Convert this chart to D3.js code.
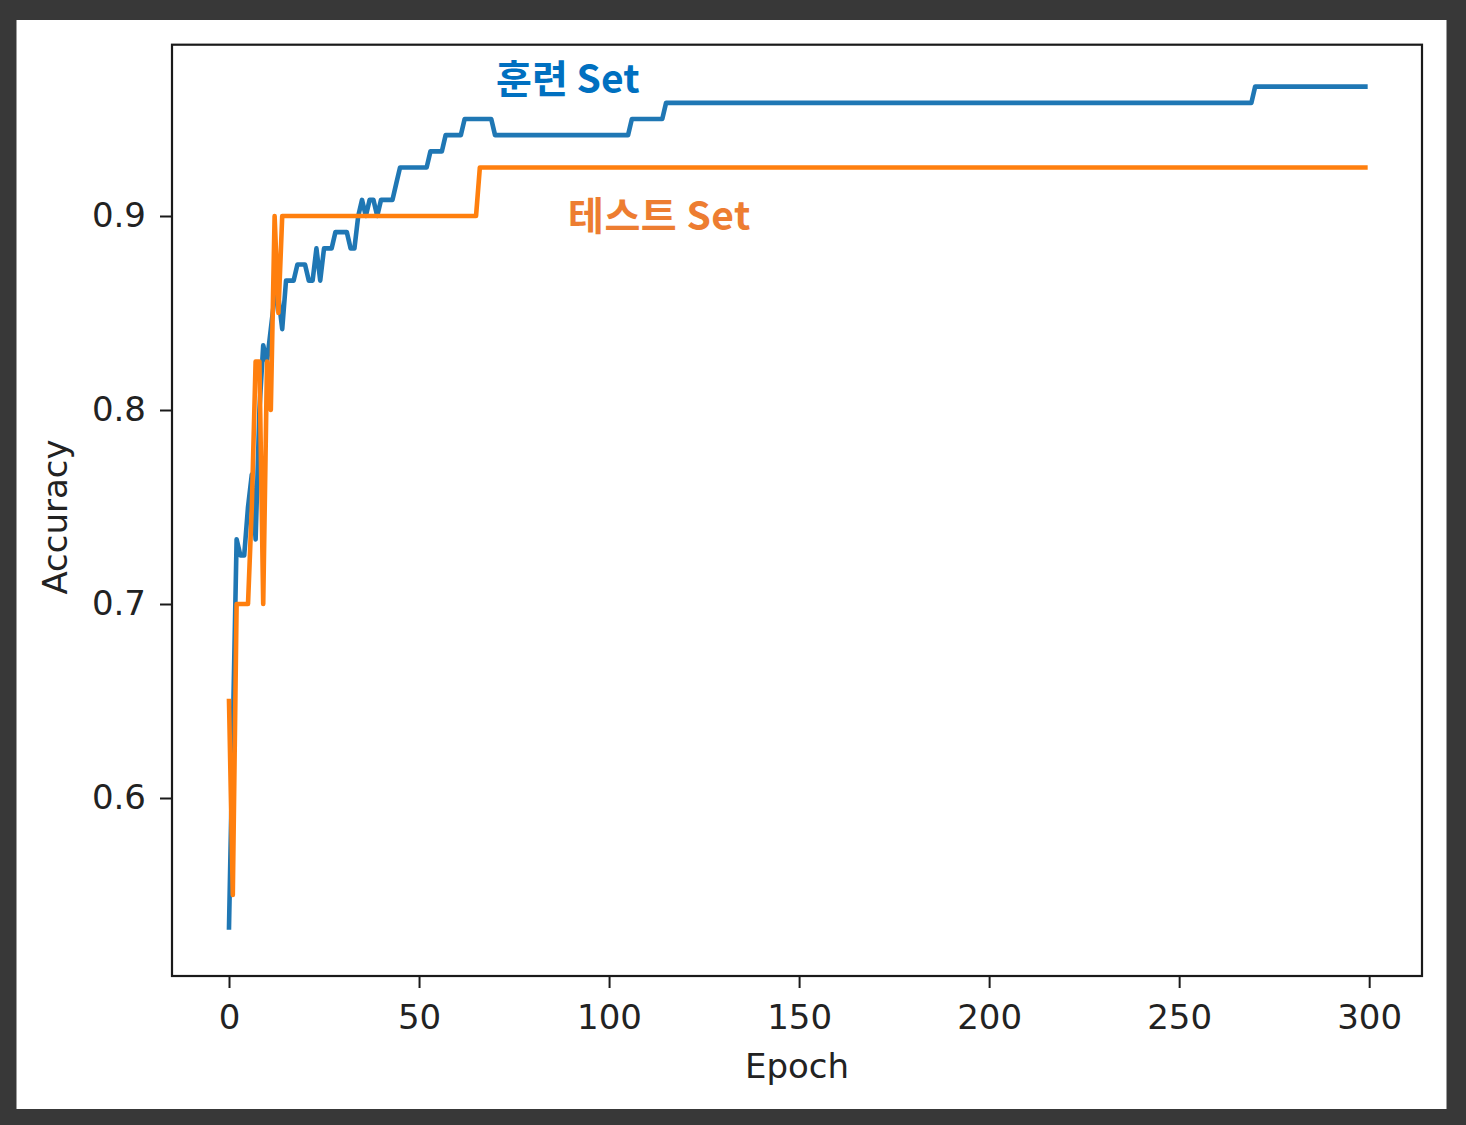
<!DOCTYPE html>
<html><head><meta charset="utf-8">
<script src="https://cdn.jsdelivr.net/npm/d3@7"></script>
<style>body{margin:0;background:#383838;overflow:hidden}</style>
</head><body>
<svg id="chart" width="1466" height="1125"></svg>
<script>
// ---- data ----
const trainAcc = [
.5333,.6333,.7333,.7250,.7250,.7500,.7667,.7333,.8000,.8333,
.8250,.8417,.8583,.8583,.8417,.8667,.8667,.8667,.8750,.8750,
.8750,.8667,.8667,.8833,.8667,.8833,.8833,.8833,.8917,.8917,
.8917,.8917,.8833,.8833,.9000,.9083,.9000,.9083,.9083,.9000,
.9083,.9083,.9083,.9083,.9167,.9250,.9250,.9250,.9250,.9250,
.9250,.9250,.9250,.9333,.9333,.9333,.9333,.9417,.9417,.9417,
.9417,.9417,.9500,.9500,.9500,.9500,.9500,.9500,.9500,.9500,
.9417,.9417,.9417,.9417,.9417,.9417,.9417,.9417,.9417,.9417,
.9417,.9417,.9417,.9417,.9417,.9417,.9417,.9417,.9417,.9417,
.9417,.9417,.9417,.9417,.9417,.9417,.9417,.9417,.9417,.9417,
.9417,.9417,.9417,.9417,.9417,.9417,.9500,.9500,.9500,.9500,
.9500,.9500,.9500,.9500,.9500,.9583,.9583,.9583,.9583,.9583,
.9583,.9583,.9583,.9583,.9583,.9583,.9583,.9583,.9583,.9583,
.9583,.9583,.9583,.9583,.9583,.9583,.9583,.9583,.9583,.9583,
.9583,.9583,.9583,.9583,.9583,.9583,.9583,.9583,.9583,.9583,
.9583,.9583,.9583,.9583,.9583,.9583,.9583,.9583,.9583,.9583,
.9583,.9583,.9583,.9583,.9583,.9583,.9583,.9583,.9583,.9583,
.9583,.9583,.9583,.9583,.9583,.9583,.9583,.9583,.9583,.9583,
.9583,.9583,.9583,.9583,.9583,.9583,.9583,.9583,.9583,.9583,
.9583,.9583,.9583,.9583,.9583,.9583,.9583,.9583,.9583,.9583,
.9583,.9583,.9583,.9583,.9583,.9583,.9583,.9583,.9583,.9583,
.9583,.9583,.9583,.9583,.9583,.9583,.9583,.9583,.9583,.9583,
.9583,.9583,.9583,.9583,.9583,.9583,.9583,.9583,.9583,.9583,
.9583,.9583,.9583,.9583,.9583,.9583,.9583,.9583,.9583,.9583,
.9583,.9583,.9583,.9583,.9583,.9583,.9583,.9583,.9583,.9583,
.9583,.9583,.9583,.9583,.9583,.9583,.9583,.9583,.9583,.9583,
.9583,.9583,.9583,.9583,.9583,.9583,.9583,.9583,.9583,.9583,
.9667,.9667,.9667,.9667,.9667,.9667,.9667,.9667,.9667,.9667,
.9667,.9667,.9667,.9667,.9667,.9667,.9667,.9667,.9667,.9667,
.9667,.9667,.9667,.9667,.9667,.9667,.9667,.9667,.9667,.9667
];
const testAcc = [
.650,.550,.700,.700,.700,.700,.750,.825,.825,.700,
.825,.800,.900,.850,.900,.900,.900,.900,.900,.900,
.900,.900,.900,.900,.900,.900,.900,.900,.900,.900,
.900,.900,.900,.900,.900,.900,.900,.900,.900,.900,
.900,.900,.900,.900,.900,.900,.900,.900,.900,.900,
.900,.900,.900,.900,.900,.900,.900,.900,.900,.900,
.900,.900,.900,.900,.900,.900,.925,.925,.925,.925,
.925,.925,.925,.925,.925,.925,.925,.925,.925,.925,
.925,.925,.925,.925,.925,.925,.925,.925,.925,.925,
.925,.925,.925,.925,.925,.925,.925,.925,.925,.925,
.925,.925,.925,.925,.925,.925,.925,.925,.925,.925,
.925,.925,.925,.925,.925,.925,.925,.925,.925,.925,
.925,.925,.925,.925,.925,.925,.925,.925,.925,.925,
.925,.925,.925,.925,.925,.925,.925,.925,.925,.925,
.925,.925,.925,.925,.925,.925,.925,.925,.925,.925,
.925,.925,.925,.925,.925,.925,.925,.925,.925,.925,
.925,.925,.925,.925,.925,.925,.925,.925,.925,.925,
.925,.925,.925,.925,.925,.925,.925,.925,.925,.925,
.925,.925,.925,.925,.925,.925,.925,.925,.925,.925,
.925,.925,.925,.925,.925,.925,.925,.925,.925,.925,
.925,.925,.925,.925,.925,.925,.925,.925,.925,.925,
.925,.925,.925,.925,.925,.925,.925,.925,.925,.925,
.925,.925,.925,.925,.925,.925,.925,.925,.925,.925,
.925,.925,.925,.925,.925,.925,.925,.925,.925,.925,
.925,.925,.925,.925,.925,.925,.925,.925,.925,.925,
.925,.925,.925,.925,.925,.925,.925,.925,.925,.925,
.925,.925,.925,.925,.925,.925,.925,.925,.925,.925,
.925,.925,.925,.925,.925,.925,.925,.925,.925,.925,
.925,.925,.925,.925,.925,.925,.925,.925,.925,.925,
.925,.925,.925,.925,.925,.925,.925,.925,.925,.925
];
const epochs = d3.range(trainAcc.length);
const xTicks = [0, 50, 100, 150, 200, 250, 300];
const yTicks = [0.6, 0.7, 0.8, 0.9];
const seriesNames = ["훈련 Set", "테스트 Set"];
const xLabel = "Epoch", yLabel = "Accuracy";

// ---- drawing ----
const svg = d3.select("#chart");
svg.append("rect").attr("width",1466).attr("height",1125).attr("fill","#383838");
svg.append("rect").attr("x",16.5).attr("y",20).attr("width",1430).attr("height",1089).attr("fill","#ffffff");

const L=172, R=1422, T=44.7, B=976;
const x = d3.scaleLinear().domain([-15.0, 313.9]).range([L, R]);
const y = d3.scaleLinear().domain([0.50825, 0.9883]).range([B, T]);

const tickFont = "'DejaVu Sans', sans-serif";

const xAxis = svg.append("g").attr("transform",`translate(0,${B})`)
  .call(d3.axisBottom(x).tickValues(xTicks).tickSize(12).tickPadding(17).tickFormat(d3.format("d")));
const yAxis = svg.append("g").attr("transform",`translate(${L},0)`)
  .call(d3.axisLeft(y).tickValues(yTicks).tickSize(12).tickPadding(14).tickFormat(d3.format(".1f")));
[xAxis,yAxis].forEach(g=>{
  g.select(".domain").remove();
  g.selectAll(".tick line").attr("stroke","#1a1a1a").attr("stroke-width",2);
  g.selectAll(".tick text").attr("font-family",tickFont).attr("font-size",34).attr("fill","#222");
});

const line = d3.line().x((d,i)=>x(epochs[i])).y(d=>y(d));
svg.append("path").datum(trainAcc).attr("d",line).attr("fill","none")
  .attr("stroke","#1f77b4").attr("stroke-width",4.6).attr("stroke-linejoin","round").attr("stroke-linecap","square");
svg.append("path").datum(testAcc).attr("d",line).attr("fill","none")
  .attr("stroke","#ff7f0e").attr("stroke-width",4.6).attr("stroke-linejoin","round").attr("stroke-linecap","square");

svg.append("rect").attr("x",L).attr("y",T).attr("width",R-L).attr("height",B-T)
  .attr("fill","none").attr("stroke","#1a1a1a").attr("stroke-width",2.2);

svg.append("text").attr("x",(L+R)/2).attr("y",1078).attr("text-anchor","middle")
  .attr("font-family",tickFont).attr("font-size",34).attr("fill","#222").text(xLabel);
svg.append("text").attr("transform","translate(67,517) rotate(-90)").attr("text-anchor","middle")
  .attr("font-family",tickFont).attr("font-size",34).attr("fill","#222").text(yLabel);

const cjk = "'Noto Sans CJK KR', sans-serif";
svg.append("text").attr("x",496).attr("y",93).attr("font-family",cjk).attr("font-weight","bold")
  .attr("font-size",39).attr("fill","#0070C0").text(seriesNames[0]);
svg.append("text").attr("x",568).attr("y",230).attr("font-family",cjk).attr("font-weight","bold")
  .attr("font-size",39).attr("letter-spacing",0.5).attr("fill","#ED7D31").text(seriesNames[1]);
</script>
</body></html>
